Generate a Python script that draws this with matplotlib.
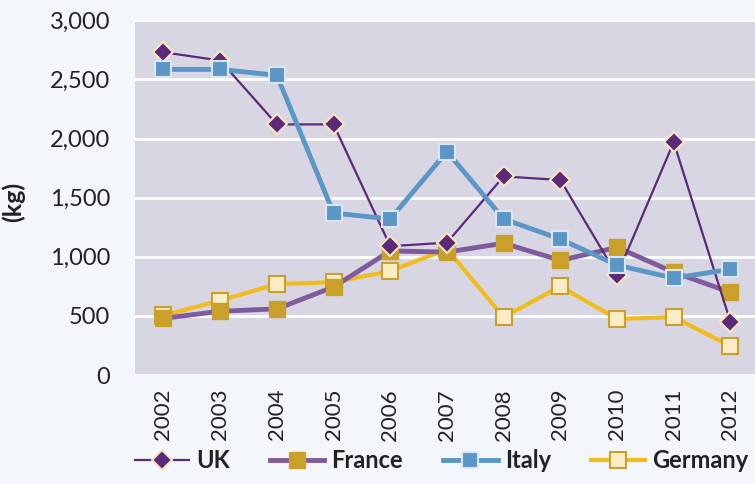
import matplotlib.pyplot as plt

years = ['2002', '2003', '2004', '2005', '2006', '2007', '2008', '2009', '2010', '2011', '2012']
uk = [2730, 2660, 2120, 2120, 1090, 1120, 1680, 1650, 845, 1970, 450]
france = [480, 540, 560, 745, 1050, 1040, 1115, 970, 1080, 870, 700]
italy = [2585, 2585, 2535, 1370, 1320, 1890, 1320, 1150, 930, 820, 895]
germany = [505, 630, 770, 785, 880, 1065, 490, 750, 475, 490, 245]

plt.rcParams['font.family'] = ['Lato', 'DejaVu Sans']

fig = plt.figure(figsize=(7.55, 4.84), dpi=100, facecolor='#f3f6fb')
ax = fig.add_axes([0.179, 0.225, 0.826, 0.733])
ax.set_facecolor('#d9d6e4')

x = range(len(years))
ax.plot(x, uk, color='#5a2a78', lw=1.6, marker='D', ms=10,
        mfc='#5a2a78', mec='#fbe6c0', mew=1.5, label='UK', zorder=3)
ax.plot(x, france, color='#7f5b9e', lw=3.5, marker='s', ms=12,
        mfc='#c9a02a', mec='#c9a02a', mew=1, label='France', zorder=2)
ax.plot(x, italy, color='#5b97c6', lw=3.5, marker='s', ms=11,
        mfc='#5b97c6', mec='#dde5f0', mew=1.5, label='Italy', zorder=4)
ax.plot(x, germany, color='#f0bc1e', lw=3, marker='s', ms=11,
        mfc='#fbecc8', mec='#c9a02a', mew=1.5, label='Germany', zorder=1)

ax.set_xlim(-0.5, len(years) - 0.5)
ax.set_ylim(0, 3000)
ax.set_yticks(range(0, 3001, 500))
ax.set_yticklabels([f'{v:,}' for v in range(0, 3001, 500)], fontsize=17, color='#222222')
ax.set_xticks(list(x))
ax.set_xticklabels(years, rotation=90, fontsize=16, color='#222222')
ax.tick_params(axis='y', length=0, pad=18)
ax.tick_params(axis='x', length=0, pad=10)
ax.yaxis.grid(True, color='white', lw=2)
ax.set_axisbelow(True)
for s in ax.spines.values():
    s.set_visible(False)
ax.set_ylabel('(kg)', fontsize=18, fontweight='bold', color='#222222')
ax.yaxis.set_label_coords(-0.177, 0.487)

fig.legend(loc='lower center', ncol=4, bbox_to_anchor=(0.585, -0.02), frameon=False,
           prop={'size': 17, 'weight': 'bold'}, handlelength=2.3, columnspacing=1.7,
           handletextpad=0.3, labelcolor='#222222')

fig.savefig('out.png', dpi=100, facecolor=fig.get_facecolor())
